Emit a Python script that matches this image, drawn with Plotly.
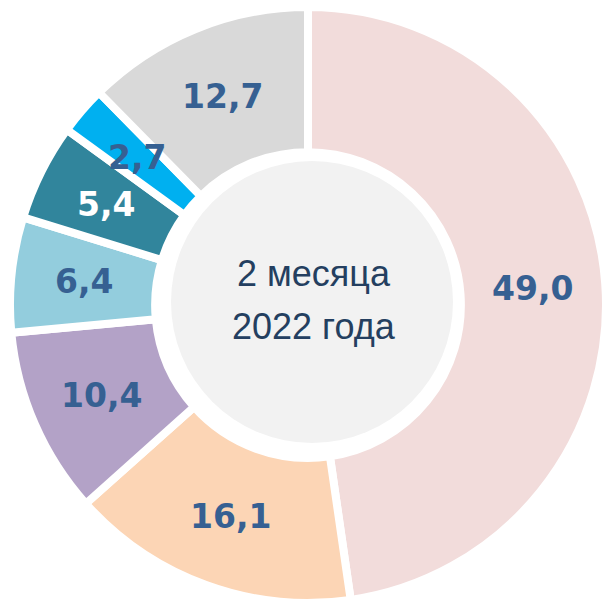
import math
import plotly.graph_objects as go

# Data
categories = ["A", "B", "C", "D", "E", "F", "G"]
values = [49.0, 16.1, 10.4, 6.4, 5.4, 2.7, 12.7]
colors = ["#F2DCDB", "#FCD5B5", "#B3A2C7", "#93CDDD", "#31859C", "#00B0F0", "#D9D9D9"]
label_colors = ["#366092", "#366092", "#366092", "#366092", "#FFFFFF", "#366092", "#366092"]
center_lines = ["2 месяца", "2022 года"]

W, H = 607, 603
CX, CY, R = 308, 305, 298          # pie centre (px from top-left) and radius
HOLE = 0.513
BORDER = 8

fig = go.Figure(go.Pie(
    labels=categories,
    values=values,
    sort=False,
    direction="clockwise",
    rotation=0,
    hole=HOLE,
    marker=dict(colors=colors, line=dict(color="white", width=BORDER)),
    textinfo="none",
    hoverinfo="skip",
    showlegend=False,
    domain=dict(x=[(CX - R) / W, (CX + R) / W], y=[(H - CY - R) / H, (H - CY + R) / H]),
))

# Grey centre disc
gx, gy, gr = 312, 302, 141
fig.add_shape(type="circle", xref="paper", yref="paper",
              x0=(gx - gr) / W, x1=(gx + gr) / W,
              y0=1 - (gy + gr) / H, y1=1 - (gy - gr) / H,
              fillcolor="#F2F2F2", line=dict(width=0), layer="above")

# Slice value labels placed at the middle of the ring, mid-angle of each slice
total = sum(values)
r_text = (R + R * HOLE) / 2
cum = 0.0
for v, c in zip(values, label_colors):
    mid = (cum + v / 2) / total * 2 * math.pi
    cum += v
    px = CX + r_text * math.sin(mid)
    py = CY - r_text * math.cos(mid)
    fig.add_annotation(x=px / W, y=1 - py / H, xref="paper", yref="paper",
                       text=f"{v:.1f}".replace(".", ","), showarrow=False,
                       xanchor="center", yanchor="middle",
                       font=dict(family="DejaVu Sans", size=33, color=c, weight="bold"))

# Centre text
for i, line in enumerate(center_lines):
    fig.add_annotation(x=314 / W, y=1 - (274 + i * 52) / H, xref="paper", yref="paper",
                       text=line, showarrow=False, xanchor="center", yanchor="middle",
                       font=dict(family="Liberation Sans", size=36, color="#243F60"))

fig.update_layout(width=W, height=H, margin=dict(l=0, r=0, t=0, b=0),
                  paper_bgcolor="white", plot_bgcolor="white")
fig.write_html("out.html")
